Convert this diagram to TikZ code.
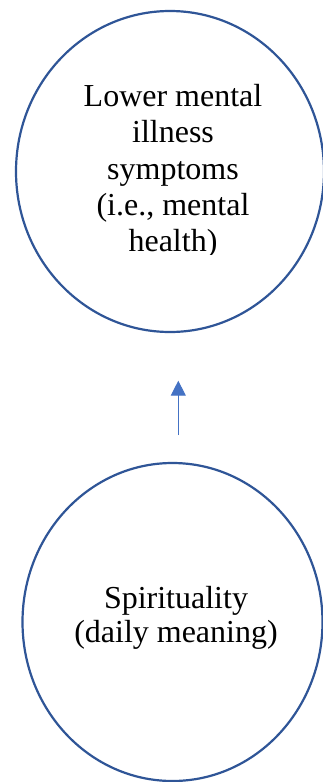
\documentclass[tikz,border=0pt]{standalone}
\usepackage{fontspec}
\setmainfont{Liberation Serif}
\usetikzlibrary{arrows.meta}
\definecolor{ringblue}{HTML}{2F5597}
\definecolor{arrowblue}{HTML}{4472C4}
\tikzset{
  construct/.style={draw=ringblue, line width=2.2pt},
  label text/.style={inner sep=0pt, align=center, text=black},
  link/.style={draw=arrowblue, line width=1pt, -{Triangle[length=15pt,width=15pt]}}
}
\begin{document}
\begin{tikzpicture}[x=1pt, y=-1pt]
  \useasboundingbox (0,0) rectangle (322,782);
  \fill[white] (0,0) rectangle (322,782);

  % outcome construct (upper ellipse)
  \draw[construct] (170,171.5) ellipse [x radius=154, y radius=160.5];
  \begin{scope}
    \clip (0,0) rectangle (322,254);
    \node[label text, font=\fontsize{32}{36.2}\selectfont] (outcome) at (173,171.4)
      {Lower mental\\illness\\symptoms\\(i.e., mental\\health)};
  \end{scope}

  % predictor construct (lower ellipse)
  \draw[construct] (172.5,622) ellipse [x radius=150, y radius=159];
  \node[label text, font=\fontsize{32}{33.6}\selectfont] (predictor) at (176,618)
    {Spirituality\\(daily meaning)};

  % effect path
  \coordinate (pathstart) at (178.3,435);
  \coordinate (pathend) at (178.3,380.7);
  \draw[link] (pathstart) -- (pathend);
\end{tikzpicture}
\end{document}
